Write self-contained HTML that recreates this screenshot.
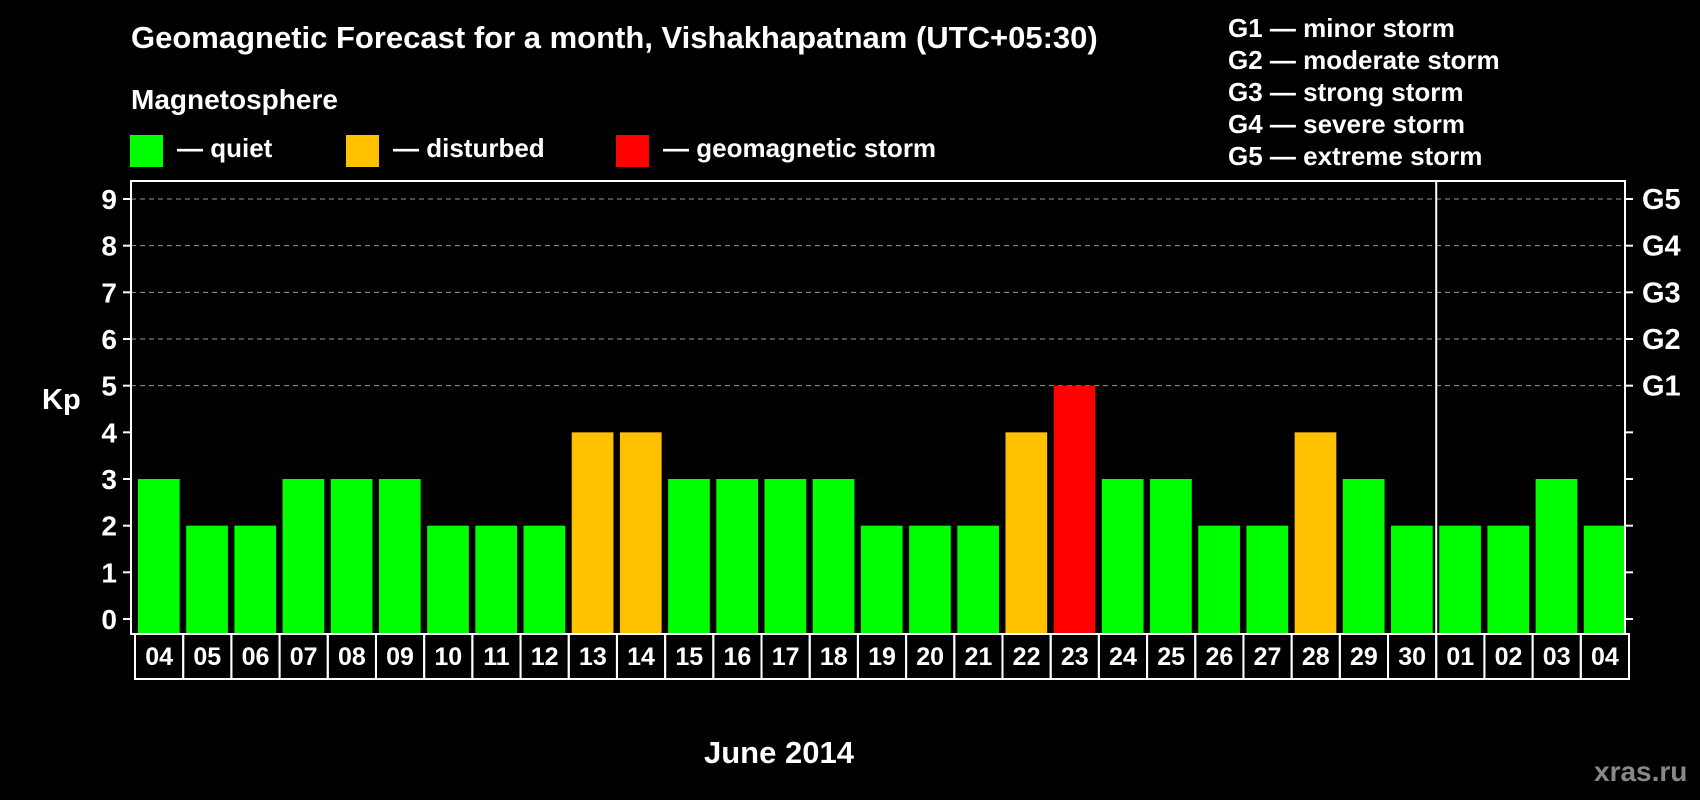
<!DOCTYPE html>
<html><head><meta charset="utf-8"><style>
body{margin:0;background:#000;width:1700px;height:800px;overflow:hidden}
svg{display:block;font-family:"Liberation Sans",Arial,sans-serif;font-weight:bold}
</style></head><body>
<svg id="chart" width="1700" height="800" viewBox="0 0 1700 800">
<text x="131" y="48" fill="#fff" font-size="31">Geomagnetic Forecast for a month, Vishakhapatnam (UTC+05:30)</text>
<text x="131" y="109" fill="#fff" font-size="28">Magnetosphere</text>
<g><rect x="130" y="135" width="33" height="32" fill="#00ff00"/><text x="177" y="157" fill="#fff" font-size="26">— quiet</text></g>
<g><rect x="346" y="135" width="33" height="32" fill="#ffc000"/><text x="393" y="157" fill="#fff" font-size="26">— disturbed</text></g>
<g><rect x="616" y="135" width="33" height="32" fill="#ff0000"/><text x="663" y="157" fill="#fff" font-size="26">— geomagnetic storm</text></g>
<g fill="#fff" font-size="26">
<text x="1228" y="37">G1 — minor storm</text>
<text x="1228" y="69">G2 — moderate storm</text>
<text x="1228" y="101">G3 — strong storm</text>
<text x="1228" y="133">G4 — severe storm</text>
<text x="1228" y="165">G5 — extreme storm</text>
</g>
<text x="42" y="409" fill="#fff" font-size="29">Kp</text>
<text x="704" y="763" fill="#fff" font-size="31">June 2014</text>
<text x="1594" y="781" fill="#888" font-size="28">xras.ru</text>
<g id="plot"></g>
</svg>
<script>
const days=["04","05","06","07","08","09","10","11","12","13","14","15","16","17","18","19","20","21","22","23","24","25","26","27","28","29","30","01","02","03","04"];
const kp=[3,2,2,3,3,3,2,2,2,4,4,3,3,3,3,2,2,2,4,5,3,3,2,2,4,3,2,2,2,3,2];
const yTicks=[0,1,2,3,4,5,6,7,8,9];
const gLabels=["G1","G2","G3","G4","G5"];
const monthBreakIndex=27;
const L=131,R=1625,T=181,B=634,Y0=619,unit=(619-199)/9;
const slot=(R-L)/days.length;
const y=v=>Y0-v*unit;
const x=i=>L+i*slot;
const ns="http://www.w3.org/2000/svg";
const g=document.getElementById('plot');
function mk(t,a){const e=document.createElementNS(ns,t);for(const k in a)e.setAttribute(k,a[k]);g.appendChild(e);return e;}
const color=v=>v>=5?"#ff0000":v>=4?"#ffc000":"#00ff00";
yTicks.forEach(v=>{
 if(v>=5){const l=mk('line',{x1:L,x2:R,y1:y(v),y2:y(v),stroke:'#999','stroke-dasharray':'5,4','stroke-width':1});
 
 }
 const t1=mk('line',{x1:L-8,x2:L,y1:y(v),y2:y(v),stroke:'#fff','stroke-width':2});
 
 
 const t2=mk('line',{x1:R,x2:R+8,y1:y(v),y2:y(v),stroke:'#fff','stroke-width':2});
 
 
 const tx=mk('text',{x:L-14,y:y(v)+10,fill:'#fff','font-size':28,'text-anchor':'end'});tx.textContent=v;
 
 
});
gLabels.forEach((s,i)=>{const tx=mk('text',{x:R+17,y:y(i+5)+10,fill:'#fff','font-size':29});tx.textContent=s;
 
 });
kp.forEach((v,i)=>{
 const r=mk('rect',{x:x(i)+7,y:y(v),width:slot-6.5,height:B-y(v),fill:color(v)});
 
 
 const b=mk('rect',{x:x(i)+4,y:B,width:slot,height:45,fill:'none',stroke:'#fff','stroke-width':2});
 
 
 const t=mk('text',{x:x(i)+4+slot/2,y:B+31,fill:'#fff','font-size':25,'text-anchor':'middle'});t.textContent=days[i];
 
 
});
const fr=mk('rect',{x:L,y:T,width:R-L,height:B-T,fill:'none',stroke:'#fff','stroke-width':2});


const mb=mk('line',{x1:x(monthBreakIndex)+4,x2:x(monthBreakIndex)+4,y1:T,y2:B,stroke:'#fff','stroke-width':2});


</script>
</body></html>
